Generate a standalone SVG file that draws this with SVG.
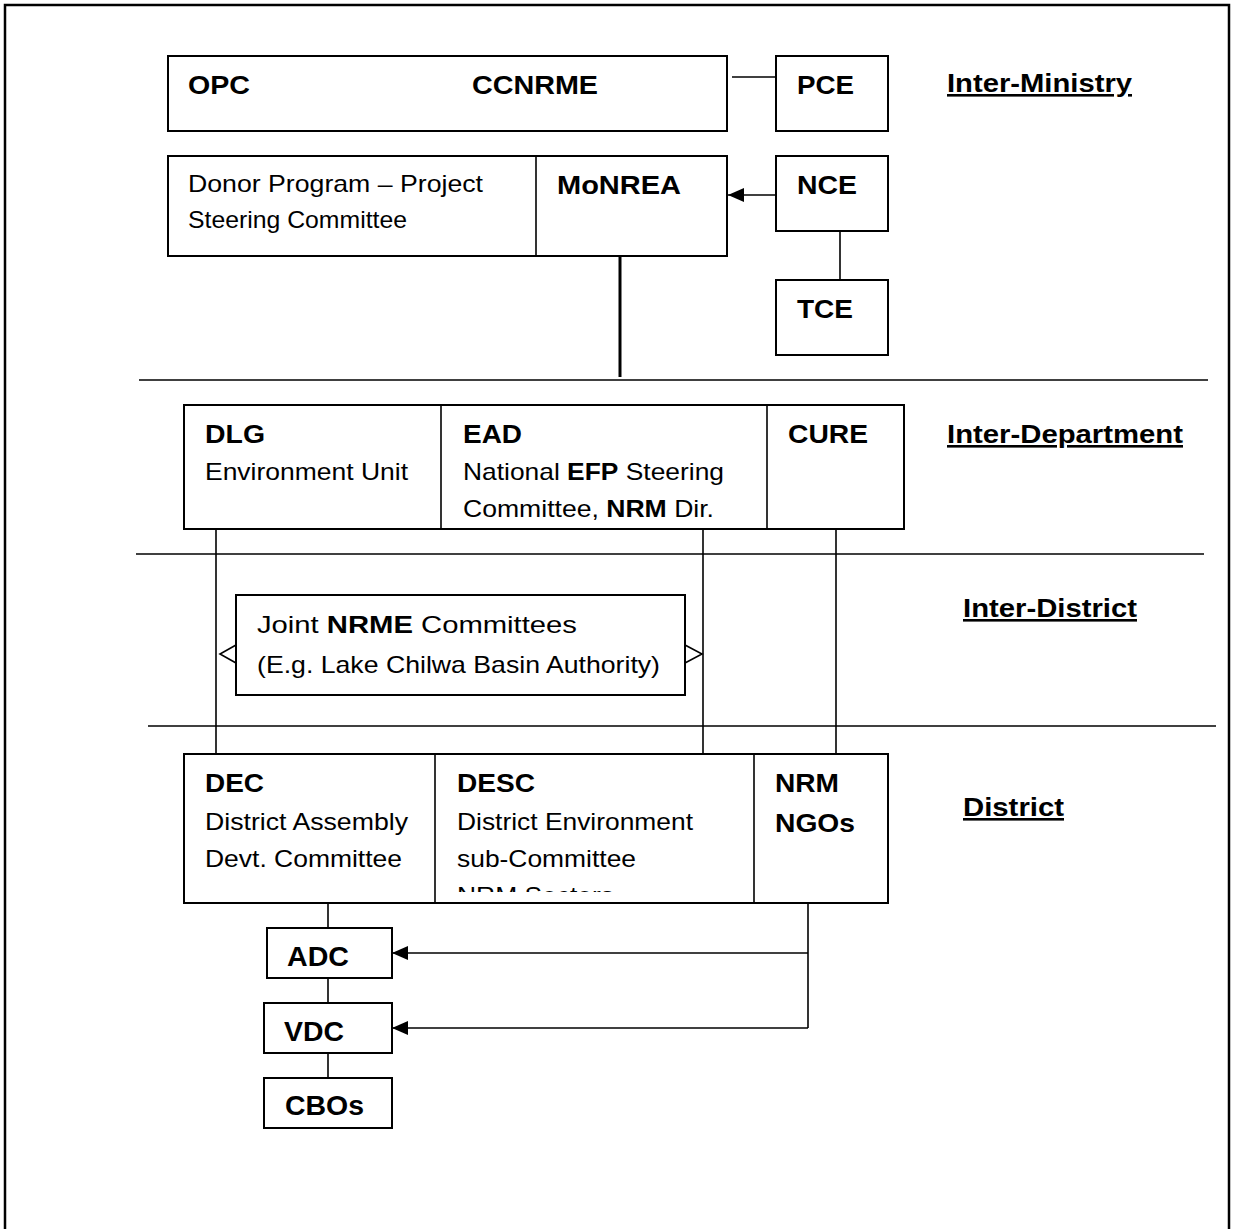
<svg xmlns="http://www.w3.org/2000/svg" width="1234" height="1229" viewBox="0 0 1234 1229">
<style>
text{font-family:"Liberation Sans",Arial,sans-serif;fill:#000}
.b{font-weight:bold;font-size:26px}
.r{font-size:24px}
.big{font-weight:bold;font-size:28px}
.sec{font-weight:bold;font-size:26px;text-decoration:underline}
.box{fill:#fff;stroke:#000;stroke-width:2}
.ln{fill:none;stroke:#000;stroke-width:1.6}
.sep{fill:none;stroke:#000;stroke-width:1.6}
</style>
<defs>
<marker id="arr" markerUnits="userSpaceOnUse" markerWidth="18" markerHeight="14" refX="16" refY="7" orient="auto">
<path d="M0,0 L16,7 L0,14 Z" fill="#000"/>
</marker>
<clipPath id="descClip"><rect x="436" y="755" width="317" height="137"/></clipPath>
</defs>
<rect x="0" y="0" width="1234" height="1229" fill="#fff"/>
<rect x="5" y="5" width="1224" height="1240" fill="none" stroke="#000" stroke-width="2.5"/>

<g id="separators">
<line class="sep" x1="139" y1="380" x2="1208" y2="380"/>
<line class="sep" x1="136" y1="554" x2="1204" y2="554"/>
<line class="sep" x1="148" y1="726" x2="1216" y2="726"/>
</g>

<g id="connectors">
<line class="ln" x1="732" y1="77" x2="776" y2="77"/>
<line class="ln" x1="776" y1="195" x2="728" y2="195" marker-end="url(#arr)"/>
<line class="ln" x1="840" y1="231" x2="840" y2="280"/>
<line x1="620" y1="256" x2="620" y2="377" stroke="#000" stroke-width="3"/>
<line class="ln" x1="216" y1="529" x2="216" y2="754"/>
<line class="ln" x1="703" y1="529" x2="703" y2="754"/>
<line class="ln" x1="836" y1="529" x2="836" y2="754"/>
<polyline class="ln" points="236,645 220,654 236,663"/>
<polyline class="ln" points="685,645 702,654 685,663"/>
<line class="ln" x1="328" y1="903" x2="328" y2="928"/>
<line class="ln" x1="328" y1="978" x2="328" y2="1003"/>
<line class="ln" x1="328" y1="1053" x2="328" y2="1078"/>
<polyline class="ln" points="808,903 808,1028"/>
<line class="ln" x1="808" y1="953" x2="392" y2="953" marker-end="url(#arr)"/>
<line class="ln" x1="808" y1="1028" x2="392" y2="1028" marker-end="url(#arr)"/>
</g>

<g id="opc-ccnrme">
<rect class="box" x="168" y="56" width="559" height="75"/>
<text class="b" x="188" y="94" textLength="62" lengthAdjust="spacingAndGlyphs">OPC</text>
<text class="b" x="472" y="94" textLength="126" lengthAdjust="spacingAndGlyphs">CCNRME</text>
</g>
<g id="pce">
<rect class="box" x="776" y="56" width="112" height="75"/>
<text class="b" x="797" y="94" textLength="57" lengthAdjust="spacingAndGlyphs">PCE</text>
</g>
<g id="donor-monrea">
<rect class="box" x="168" y="156" width="559" height="100"/>
<line class="ln" x1="536" y1="156" x2="536" y2="256"/>
<text class="r" x="188" y="192" textLength="295" lengthAdjust="spacingAndGlyphs">Donor Program – Project</text>
<text class="r" x="188" y="228" textLength="219" lengthAdjust="spacingAndGlyphs">Steering Committee</text>
<text class="b" x="557" y="194" textLength="124" lengthAdjust="spacingAndGlyphs">MoNREA</text>
</g>
<g id="nce">
<rect class="box" x="776" y="156" width="112" height="75"/>
<text class="b" x="797" y="194" textLength="60" lengthAdjust="spacingAndGlyphs">NCE</text>
</g>
<g id="tce">
<rect class="box" x="776" y="280" width="112" height="75"/>
<text class="b" x="797" y="318" textLength="56" lengthAdjust="spacingAndGlyphs">TCE</text>
</g>

<g id="dlg-ead-cure">
<rect class="box" x="184" y="405" width="720" height="124"/>
<line class="ln" x1="441" y1="405" x2="441" y2="529"/>
<line class="ln" x1="767" y1="405" x2="767" y2="529"/>
<text class="b" x="205" y="443" textLength="60" lengthAdjust="spacingAndGlyphs">DLG</text>
<text class="r" x="205" y="480" textLength="203" lengthAdjust="spacingAndGlyphs">Environment Unit</text>
<text class="b" x="463" y="443" textLength="59" lengthAdjust="spacingAndGlyphs">EAD</text>
<text class="r" x="463" y="480" textLength="261" lengthAdjust="spacingAndGlyphs">National <tspan font-weight="bold">EFP</tspan> Steering</text>
<text class="r" x="463" y="517" textLength="251" lengthAdjust="spacingAndGlyphs">Committee, <tspan font-weight="bold">NRM</tspan> Dir.</text>
<text class="b" x="788" y="443" textLength="80" lengthAdjust="spacingAndGlyphs">CURE</text>
</g>

<g id="joint-nrme">
<rect class="box" x="236" y="595" width="449" height="100"/>
<text class="r" x="257" y="633" textLength="320" lengthAdjust="spacingAndGlyphs">Joint <tspan font-weight="bold">NRME</tspan> Committees</text>
<text class="r" x="257" y="673" textLength="403" lengthAdjust="spacingAndGlyphs">(E.g. Lake Chilwa Basin Authority)</text>
</g>

<g id="dec-desc-ngos">
<rect class="box" x="184" y="754" width="704" height="149"/>
<line class="ln" x1="435" y1="754" x2="435" y2="903"/>
<line class="ln" x1="754" y1="754" x2="754" y2="903"/>
<text class="b" x="205" y="792" textLength="59" lengthAdjust="spacingAndGlyphs">DEC</text>
<text class="r" x="205" y="830" textLength="203" lengthAdjust="spacingAndGlyphs">District Assembly</text>
<text class="r" x="205" y="867" textLength="197" lengthAdjust="spacingAndGlyphs">Devt. Committee</text>
<text class="b" x="457" y="792" textLength="78" lengthAdjust="spacingAndGlyphs">DESC</text>
<text class="r" x="457" y="830" textLength="236" lengthAdjust="spacingAndGlyphs">District Environment</text>
<text class="r" x="457" y="867" textLength="179" lengthAdjust="spacingAndGlyphs">sub-Committee</text>
<text class="r" x="457" y="904" textLength="157" lengthAdjust="spacingAndGlyphs" clip-path="url(#descClip)">NRM Sectors</text>
<text class="b" x="775" y="792" textLength="64" lengthAdjust="spacingAndGlyphs">NRM</text>
<text class="b" x="775" y="832" textLength="80" lengthAdjust="spacingAndGlyphs">NGOs</text>
</g>

<g id="adc">
<rect class="box" x="267" y="928" width="125" height="50"/>
<text class="big" x="287" y="966" textLength="62" lengthAdjust="spacingAndGlyphs">ADC</text>
</g>
<g id="vdc">
<rect class="box" x="264" y="1003" width="128" height="50"/>
<text class="big" x="284" y="1041" textLength="60" lengthAdjust="spacingAndGlyphs">VDC</text>
</g>
<g id="cbos">
<rect class="box" x="264" y="1078" width="128" height="50"/>
<text class="big" x="285" y="1115" textLength="79" lengthAdjust="spacingAndGlyphs">CBOs</text>
</g>

<g id="levels">
<text class="sec" x="947" y="92" textLength="185" lengthAdjust="spacingAndGlyphs">Inter-Ministry</text>
<text class="sec" x="947" y="443" textLength="236" lengthAdjust="spacingAndGlyphs">Inter-Department</text>
<text class="sec" x="963" y="617" textLength="174" lengthAdjust="spacingAndGlyphs">Inter-District</text>
<text class="sec" x="963" y="816" textLength="101" lengthAdjust="spacingAndGlyphs">District</text>
</g>
</svg>
